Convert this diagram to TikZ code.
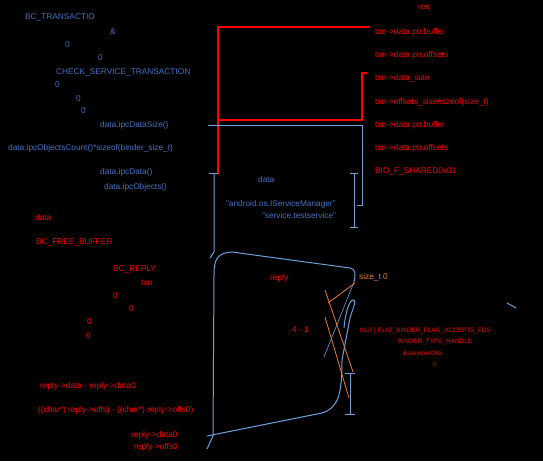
\documentclass[tikz,border=0pt]{standalone}
\usepackage{fontspec}
\setmainfont{Liberation Sans}
\definecolor{codeblue}{RGB}{68,114,196}
\definecolor{lineblue}{RGB}{110,160,215}
\definecolor{notered}{RGB}{255,0,0}
\definecolor{noteorange}{RGB}{237,125,49}
\begin{document}
\begin{tikzpicture}[x=1pt,y=-1pt,
        bl/.style = {text=codeblue, font=\fontsize{8.3}{10}\selectfont, inner sep=0pt, anchor=west},
        rd/.style = {text=notered, font=\fontsize{8.3}{10}\selectfont, inner sep=0pt, anchor=west},
        rdsmall/.style = {text=notered, font=\fontsize{6.4}{8}\selectfont, inner sep=0pt, anchor=west},
        og/.style = {text=noteorange, font=\fontsize{8.3}{10}\selectfont, inner sep=0pt, anchor=west},
        redline/.style = {draw=notered, line width=1.2pt},
        blueline/.style = {draw=lineblue, line width=1pt},
        orangeline/.style = {draw=noteorange, line width=0.8pt}]
        \fill[black] (0,0) rectangle (543,461);
        % client side (blue)
        \node[bl] (bctxn) at (25,17) {BC\_TRANSACTIO};
        \node[bl] (tr) at (110,32) {\&};
        \node[bl] (z1) at (65,45) {0};
        \node[bl] (z2) at (98,58) {0};
        \node[bl] (check) at (56,72) {CHECK\_SERVICE\_TRANSACTION};
        \node[bl] (z3) at (55,85) {0};
        \node[bl] (z4) at (76,99) {0};
        \node[bl] (z5) at (81,111) {0};
        \node[bl] (dsize) at (100,125) {data.ipcDataSize()};
        \node[bl] (ocount) at (8,148) {data.ipcObjectsCount()*sizeof(binder\_size\_t)};
        \node[bl] (dptr) at (100,172) {data.ipcData()};
        \node[bl] (optr) at (104,187) {data.ipcObjects()};
        \node[bl] (data) at (258,180) {data};
        \node[bl] (iface) at (226,204) {"android.os.IServiceManager"};
        \node[bl] (sname) at (262,216) {"service.testservice"};
        % reply side (red)
        \node[rd] (rdata) at (35,218) {data};
        \node[rd] (free) at (36,242) {BC\_FREE\_BUFFER};
        \node[rd] (bcreply) at (113,269) {BC\_REPLY};
        \node[rd] (txn) at (141,283) {txn};
        \node[rd] (r1) at (113,296) {0};
        \node[rd] (r2) at (129,309) {0};
        \node[rd] (r3) at (87,322) {0};
        \node[rd] (r4) at (86,336) {0};
        \node[rd] (dlen) at (40,386) {reply->data - reply->data0};
        \node[rd] (olen) at (38,410) {((char*) reply->offs) - ((char*) reply->offs0)};
        \node[rd] (d0) at (131,435) {reply->data0};
        \node[rd] (o0) at (134,447) {reply->offs0};
        \node[rd] (req) at (418,8) {req};
        \node[rd] (q1) at (375,32) {txn->data.ptr.buffer};
        \node[rd] (q2) at (375,55) {txn->data.ptr.offsets};
        \node[rd] (q3) at (375,78) {txn->data\_size};
        \node[rd] (q4) at (375,102) {txn->offsets\_size/sizeof(size\_t)};
        \node[rd] (q5) at (375,125) {txn->data.ptr.buffer};
        \node[rd] (q6) at (375,148) {txn->data.ptr.offsets};
        \node[rd] (q7) at (375,171) {BIO\_F\_SHARED0x01};
        \node[rd] (reply) at (270,278) {reply};
        \node[rd] (cnt) at (292,330) {4 - 1};
        \node[og] (szt) at (359,277) {size\_t 0};
        \node[rdsmall] (flags) at (360,331) {0x7f | FLAT\_BINDER\_FLAG\_ACCEPTS\_FDS};
        \node[rdsmall] (type) at (398,342) {BINDER\_TYPE\_HANDLE};
        \node[rdsmall] (handle) at (403,353) {\&service4096};
        \node[rdsmall] (cookie) at (433,364) {0};
        % brackets
        \draw[redline] (370,27) -- (218,27) -- (218,174);
        \draw[redline] (367,73) -- (362,73) -- (362,120) -- (218,120);
        \draw[blueline] (208,125) -- (362,125) -- (362,205) -- (357,205);
        \draw[blueline] (209,173) -- (218,173);
        \draw[blueline] (214,173) -- (214,252) -- (210,258);
        \draw[blueline] (350,173) -- (358,173);
        \draw[blueline] (354,173) -- (354,227);
        \draw[blueline] (350,227) -- (358,227);
        \draw[blueline] (207,449) -- (213,436) -- (214,275) .. controls (214,258) and (218,253) .. (232,252) -- (350,268) .. controls (355,269) and (356,272) .. (354,282);
        \draw[blueline] (207,436) -- (322,413) .. controls (338,408) and (342,395) .. (342,360) -- (350,318) .. controls (354,305) and (357,300) .. (353,300) .. controls (349,300) and (345,315) .. (344,328);
        \draw[blueline, line width=0.6pt] (354,282) -- (324,357);
        \draw[orangeline] (328,303) -- (355,283);
        \draw[orangeline] (325,290) -- (353,372);
        \draw[orangeline] (325,317) -- (349,398);
        \draw[blueline] (345,373) -- (355,373);
        \draw[blueline] (350,373) -- (350,414);
        \draw[blueline] (345,414) -- (355,414);
        \draw[blueline] (507,303) -- (516,308);
        \end{tikzpicture}
\end{document}
